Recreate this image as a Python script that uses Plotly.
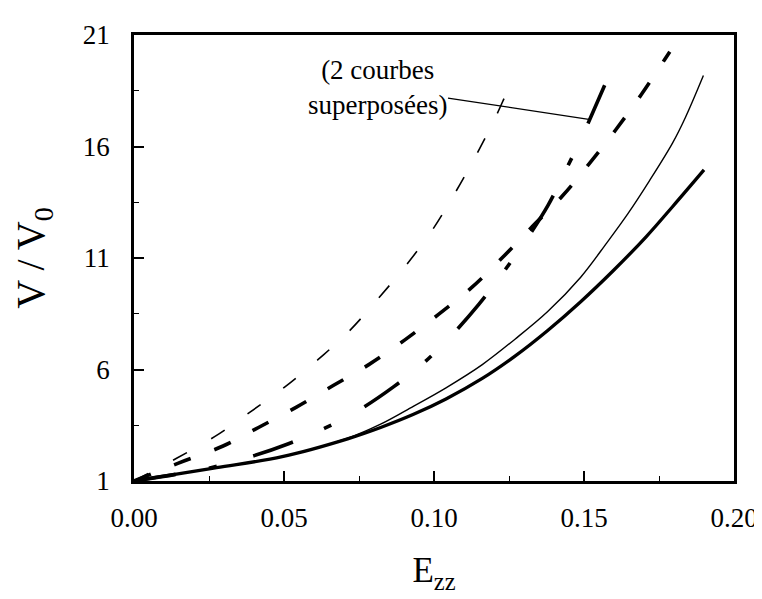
import plotly.graph_objects as go

# ---- data ----
# thick solid curve
E_thick_solid = [0, 0.01, 0.0275, 0.0494, 0.0712, 0.0822, 0.093, 0.104, 0.1161, 0.127, 0.1379, 0.1489, 0.1598, 0.1707, 0.1795, 0.190]
V_thick_solid = [1, 1.22, 1.60, 2.09, 2.89, 3.40, 3.98, 4.68, 5.60, 6.60, 7.75, 9.04, 10.44, 11.95, 13.3, 14.95]
# thin solid curve
E_thin_solid = [0, 0.0275, 0.0494, 0.0712, 0.0822, 0.0931, 0.104, 0.1161, 0.127, 0.1379, 0.1489, 0.1576, 0.1647, 0.1718, 0.1795, 0.1838, 0.1898]
V_thin_solid = [1, 1.60, 2.09, 2.92, 3.55, 4.35, 5.18, 6.22, 7.36, 8.6, 10.14, 11.68, 13.0, 14.46, 16.15, 17.3, 19.18]
# thin dashed curve
E_thin_dash = [0, 0.0142, 0.027, 0.0388, 0.0502, 0.0613, 0.0717, 0.0807, 0.0906, 0.099, 0.1065, 0.1134, 0.12, 0.126, 0.1275]
V_thin_dash = [1, 2.02, 3.0, 4.1, 5.21, 6.44, 7.72, 9.07, 10.66, 12.17, 13.8, 15.45, 17.17, 18.9, 19.2]
# thick dashed curve
E_thick_dash = [0, 0.0146, 0.0297, 0.0415, 0.054, 0.0664, 0.0784, 0.0903, 0.1015, 0.1126, 0.1229, 0.1327, 0.1427, 0.1517, 0.1606, 0.169, 0.1769, 0.1786]
V_thick_dash = [1, 1.79, 2.57, 3.4, 4.3, 5.28, 6.23, 7.33, 8.47, 9.68, 11.03, 12.4, 13.77, 15.22, 16.75, 18.31, 19.9, 20.25]
# dash-dot curve (2 overlapping curves)
E_dashdot = [0, 0.0248, 0.038, 0.0515, 0.0636, 0.075, 0.0866, 0.0966, 0.106, 0.115, 0.1231, 0.1308, 0.138, 0.1436, 0.1497, 0.155, 0.1598]
V_dashdot = [1, 1.57, 2.05, 2.67, 3.37, 4.18, 5.23, 6.3, 7.55, 8.93, 10.36, 11.83, 13.36, 14.85, 16.55, 18.16, 19.67]

X_TICKS = [0, 0.05, 0.10, 0.15, 0.20]
X_TICK_LABELS = ["0.00", "0.05", "0.10", "0.15", "0.20"]
Y_TICKS = [1, 6, 11, 16, 21]
Y_TICK_LABELS = ["1", "6", "11", "16", "21"]

ANNOT_TEXT = "(2 courbes<br>superposées)"
ANNOT_TIP = (0.1516, 17.22)
ANNOT_TEXT_POS = (0.081, 18.65)

FONT = "Liberation Serif"

fig = go.Figure()

def add(x, y, width, dash):
    fig.add_trace(go.Scatter(x=x, y=y, mode="lines",
                             line=dict(color="black", width=width, dash=dash,
                                       shape="spline", smoothing=1.0),
                             showlegend=False, hoverinfo="skip"))

add(E_thick_solid, V_thick_solid, 3.3, "solid")
add(E_thin_solid, V_thin_solid, 1.4, "solid")
add(E_thin_dash, V_thin_dash, 1.6, "16px,28px")
add(E_thick_dash, V_thick_dash, 3.6, "18px,25px")
add(E_dashdot, V_dashdot, 3.6, "42px,34px,8px,38px")

fig.add_annotation(x=ANNOT_TIP[0], y=ANNOT_TIP[1], ax=ANNOT_TEXT_POS[0], ay=ANNOT_TEXT_POS[1],
                   axref="x", ayref="y", xref="x", yref="y",
                   text=ANNOT_TEXT, showarrow=True, arrowhead=0, arrowwidth=1.2,
                   arrowcolor="black", align="center",
                   font=dict(family=FONT, size=27, color="black"))

axis_common = dict(showline=True, linewidth=2.5, linecolor="black", mirror=True,
                   showgrid=False, zeroline=False, ticks="inside", ticklen=10,
                   tickwidth=1.5, tickcolor="black",
                   tickfont=dict(family=FONT, size=27, color="black"))

fig.update_xaxes(range=[0, 0.2], tickvals=X_TICKS, ticktext=X_TICK_LABELS,
                 minor=dict(tick0=0, dtick=0.025, ticks="inside", ticklen=5, tickwidth=1.2, tickcolor="black"),
                 ticklabelstandoff=11,
                 title=dict(text="E<sub>zz</sub>", font=dict(family=FONT, size=35, color="black"), standoff=26),
                 **axis_common)
fig.update_yaxes(range=[1, 21], tickvals=Y_TICKS, ticktext=Y_TICK_LABELS,
                 minor=dict(tick0=1, dtick=2.5, ticks="inside", ticklen=5, tickwidth=1.2, tickcolor="black"),
                 ticklabelstandoff=16,
                 title=dict(text="V / V<sub>0</sub>", font=dict(family=FONT, size=40, color="black"), standoff=26),
                 **axis_common)

fig.update_layout(width=762, height=599, margin=dict(l=126, r=27, t=17, b=126),
                  paper_bgcolor="white", plot_bgcolor="white",
                  font=dict(family=FONT, color="black"))

fig.write_html("out.html")
